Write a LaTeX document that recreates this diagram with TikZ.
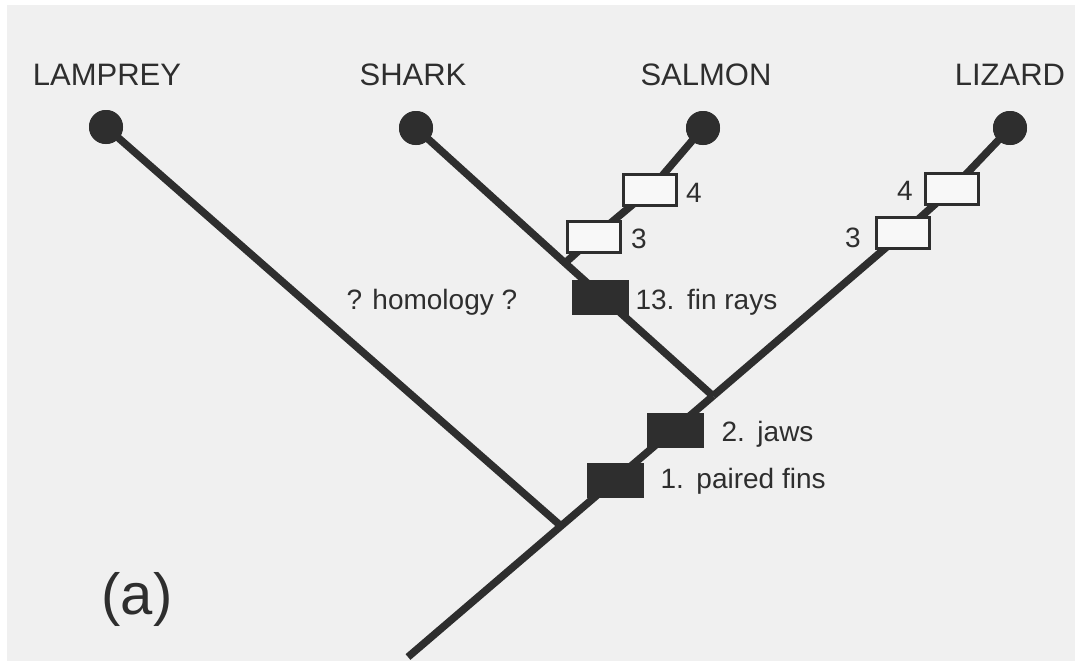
\documentclass[tikz,border=0pt]{standalone}
\usepackage{fontspec}
\setmainfont{Liberation Sans}
\definecolor{ink}{HTML}{2E2E2E}
\definecolor{paper}{HTML}{F0F0F0}
\definecolor{boxin}{HTML}{F8F8F8}
\begin{document}
\begin{tikzpicture}[x=1pt,y=-1pt,
  branch/.style={draw=ink,line width=7.5pt},
  tip/.style={circle,fill=ink,minimum size=34pt,inner sep=0pt},
  synbox/.style={draw=ink,line width=3pt,fill=ink,minimum width=54pt,minimum height=32pt,inner sep=0pt},
  openbox/.style={draw=ink,line width=3pt,fill=boxin,minimum width=53pt,minimum height=31pt,inner sep=0pt},
  taxon/.style={text=ink,anchor=base,font=\fontsize{31}{36}\selectfont},
  charlab/.style={text=ink,anchor=base west,font=\fontsize{28}{33}\selectfont},
  numlab/.style={text=ink,anchor=center,font=\fontsize{28}{32}\selectfont}]
\useasboundingbox (0,0) rectangle (1075,661);
\fill[white] (0,0) rectangle (1075,661);
\fill[paper] (7,5) rectangle (1075,661);
% coordinates
\coordinate (root) at (408,657);
\coordinate (jL) at (561,526);
\coordinate (jZ) at (713,396);
\coordinate (jS) at (565,263);
% tips
\node[tip] (lamprey) at (106,127) {};
\node[tip] (shark) at (416,128) {};
\node[tip] (salmon) at (703,128) {};
\node[tip] (lizard) at (1010,128) {};
% branches
\draw[branch] (root) -- (jL) -- (jZ);
\draw[branch] (jL) -- (lamprey.center);
\draw[branch] (jZ) -- (jS) -- (shark.center);
\coordinate (s3) at (594,237);
\coordinate (s4) at (650,190);
\coordinate (z3) at (903,233);
\coordinate (z4) at (952,189);
\draw[branch] (jS) -- (s3) -- (s4) -- (salmon.center);
\draw[branch] (jZ) -- (z3) -- (z4) -- (lizard.center);
% redraw tips on top
\node[tip] at (lamprey) {};
\node[tip] at (shark) {};
\node[tip] at (salmon) {};
\node[tip] at (lizard) {};
% character boxes
\node[synbox] (fins) at (615,480) {};
\node[synbox] (jaws) at (675,430) {};
\node[synbox] (rays) at (600,297) {};
\node[openbox] (sb3) at (s3) {};
\node[openbox] (sb4) at (s4) {};
\node[openbox] (zb3) at (z3) {};
\node[openbox] (zb4) at (z4) {};
% labels
\node[taxon] (tl) at (107,85) {LAMPREY};
\node[taxon] (ts) at (413,85) {SHARK};
\node[taxon] (tm) at (706,85) {SALMON};
\node[taxon] (tz) at (1010,85) {LIZARD};
\node[charlab] (l13) at (632,309) {13.\hspace{0.45em}fin rays};
\node[charlab] (l2) at (718,441) {2.\hspace{0.45em}jaws};
\node[charlab] (l1) at (657,488) {1.\hspace{0.45em}paired fins};
\node[charlab] (hom) at (343,309) {? homology ?};
\node[numlab] (n3s) at (639,239) {3};
\node[numlab] (n4s) at (694,193) {4};
\node[numlab] (n3z) at (853,238) {3};
\node[numlab] (n4z) at (905,191) {4};
\node[text=ink,anchor=base west,font=\fontsize{58}{64}\selectfont] (lab) at (98,614) {(a)};
\end{tikzpicture}
\end{document}
